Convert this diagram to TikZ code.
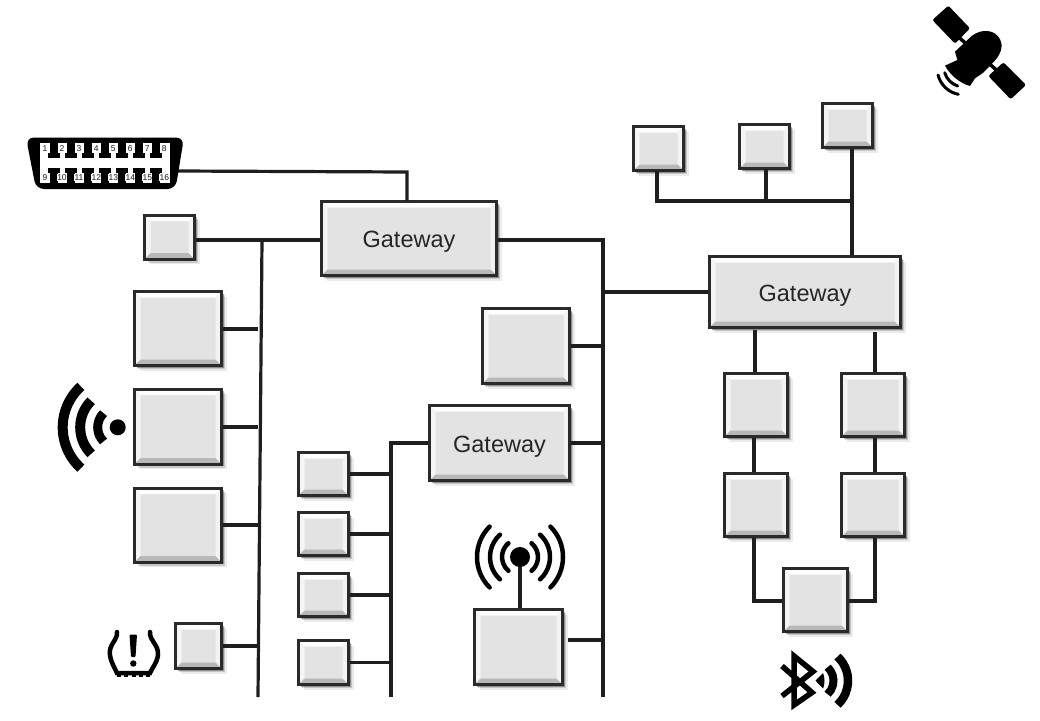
\documentclass[tikz,border=0pt]{standalone}
\usepackage{fontspec}
\setmainfont{Liberation Sans}
\usetikzlibrary{shadows,calc}
\definecolor{boxfill}{HTML}{E3E3E3}
\definecolor{boxline}{HTML}{2A2A2A}
\definecolor{wirecol}{HTML}{1E1E1E}
\tikzset{
  unit/.style={draw=boxline,line width=3pt,fill=boxfill,inner sep=0pt,
    general shadow={shadow xshift=5pt,shadow yshift=-5pt,fill=black,opacity=.08},
    general shadow={shadow xshift=3.5pt,shadow yshift=-3.5pt,fill=black,opacity=.15},
    general shadow={shadow xshift=2pt,shadow yshift=-2pt,fill=black,opacity=.3},
    font=\fontsize{23.5}{26}\selectfont,text=black!85,
    path picture={
      \fill[white!92!boxfill] (path picture bounding box.north west) -- (path picture bounding box.north east)
        -- ([xshift=-6pt,yshift=-6pt]path picture bounding box.north east)
        -- ([xshift=6pt,yshift=-6pt]path picture bounding box.north west) -- cycle;
      \fill[white!65!boxfill] (path picture bounding box.north west) -- (path picture bounding box.south west)
        -- ([xshift=6pt,yshift=6pt]path picture bounding box.south west)
        -- ([xshift=6pt,yshift=-6pt]path picture bounding box.north west) -- cycle;
      \fill[white!55!boxfill] (path picture bounding box.north east) -- (path picture bounding box.south east)
        -- ([xshift=-6pt,yshift=6pt]path picture bounding box.south east)
        -- ([xshift=-6pt,yshift=-6pt]path picture bounding box.north east) -- cycle;
      \fill[black!28] (path picture bounding box.south west) -- (path picture bounding box.south east)
        -- ([xshift=-6pt,yshift=6pt]path picture bounding box.south east)
        -- ([xshift=6pt,yshift=6pt]path picture bounding box.south west) -- cycle;
    }},
  wire/.style={draw=wirecol,line width=3.2pt},
  pin/.style={inner sep=0.3pt,fill=white,font=\fontsize{8.5}{9}\selectfont,text=black!90},
  iconline/.style={draw=black,line cap=round}
}
\newcommand{\gwlabel}{\raisebox{-9pt}[0pt][0pt]{Gateway}}
\begin{document}
\begin{tikzpicture}[x=1pt,y=-1pt]
\useasboundingbox (0,0) rectangle (1040,720);

% units
\node[unit,minimum width=50pt,minimum height=44pt] (s1) at (169.5,237) {};
\node[unit,minimum width=175pt,minimum height=74pt] (gw1) at (409,238.5) {\gwlabel};
\node[unit,minimum width=87pt,minimum height=74pt] (L1) at (178,328.5) {};
\node[unit,minimum width=87pt,minimum height=75pt] (L2) at (178,426.5) {};
\node[unit,minimum width=87pt,minimum height=74pt] (L3) at (178,525) {};
\node[unit,minimum width=46pt,minimum height=45pt] (tp) at (198.5,646) {};
\node[unit,minimum width=50pt,minimum height=43pt] (c1) at (323.5,474) {};
\node[unit,minimum width=50pt,minimum height=43pt] (c2) at (323.5,534) {};
\node[unit,minimum width=50pt,minimum height=43pt] (c3) at (323.5,595) {};
\node[unit,minimum width=50pt,minimum height=44pt] (c4) at (323.5,662.5) {};
\node[unit,minimum width=140pt,minimum height=75pt] (gw3) at (499.5,443) {\gwlabel};
\node[unit,minimum width=87pt,minimum height=75pt] (m1) at (526,346) {};
\node[unit,minimum width=88pt,minimum height=75pt] (ant) at (518.5,647) {};
\node[unit,minimum width=191pt,minimum height=71pt] (gw2) at (805,292) {\gwlabel};
\node[unit,minimum width=50pt,minimum height=44pt] (t1) at (658.5,148.5) {};
\node[unit,minimum width=50pt,minimum height=44pt] (t2) at (764.5,146.5) {};
\node[unit,minimum width=50pt,minimum height=44pt] (t3) at (847.5,125.5) {};
\node[unit,minimum width=63pt,minimum height=63pt] (r1) at (756,405) {};
\node[unit,minimum width=63pt,minimum height=63pt] (r2) at (873,405) {};
\node[unit,minimum width=63pt,minimum height=63pt] (r3) at (756,505) {};
\node[unit,minimum width=63pt,minimum height=63pt] (r4) at (873,505) {};
\node[unit,minimum width=64pt,minimum height=63pt] (bt) at (815.5,600) {};

% named points
\coordinate (obd) at (178,171);
\coordinate (busAt) at (262,240);
\coordinate (busAb) at (258,697);
\coordinate (busBt) at (391,443);
\coordinate (busBb) at (391,697);
\coordinate (busCt) at (603,240);
\coordinate (busCb) at (603,697);
\coordinate (gwtop) at (407,201);
\coordinate (topbus) at (852,201);
\coordinate (e1) at (257.5,329);
\coordinate (e2) at (257.5,427);
\coordinate (e3) at (257.5,525);
\coordinate (e4) at (258,646);
\coordinate (adot) at (520,557);
\coordinate (gwA) at (755,330);
\coordinate (gwB) at (875,332);
\coordinate (colA) at (754,0);
\coordinate (colB) at (875,0);
\coordinate (btlA) at (754,601);
\coordinate (btlB) at (875,601);
\coordinate (antw) at (568,640);
\coordinate (topA) at (657,171);
\coordinate (topB) at (766,169);

% connectors
\draw[wire] (obd) -- (407,172) -- (gwtop);
\draw[wire] (s1.east |- busAt) -- (gw1.west |- busAt);
\draw[wire] (busAt) -- (busAb);
\draw[wire] (L1.east |- e1) -- (e1);
\draw[wire] (L2.east |- e2) -- (e2);
\draw[wire] (L3.east |- e3) -- (e3);
\draw[wire] (tp.east |- e4) -- (e4);
\draw[wire] (gw1.east |- busCt) -- (busCt) -- (busCb);
\draw[wire] (gw2.west) -- (gw2.west -| busCt);
\draw[wire] (m1.east) -- (m1.east -| busCt);
\draw[wire] (gw3.east) -- (gw3.east -| busCt);
\draw[wire] (antw) -- (antw -| busCt);
\draw[wire] (gw3.west) -- (busBt) -- (busBb);
\draw[wire] (c1.east) -- (c1.east -| busBt);
\draw[wire] (c2.east) -- (c2.east -| busBt);
\draw[wire] (c3.east) -- (c3.east -| busBt);
\draw[wire] (c4.east) -- (c4.east -| busBt);
\draw[wire,line width=4.5pt] (adot) -- (adot |- ant.north);
\draw[wire] (topA) -- (topA |- topbus) -- (topbus);
\draw[wire] (topB) -- (topB |- topbus);
\draw[wire] (t3.south -| topbus) -- (topbus |- gw2.north);
\draw[wire] (gwA) -- (gwA |- r1.north);
\draw[wire] (gwB) -- (gwB |- r2.north);
\draw[wire] (colA |- r1.south) -- (colA |- r3.north);
\draw[wire] (colB |- r2.south) -- (colB |- r4.north);
\draw[wire] (colA |- r3.south) -- (btlA) -- (btlA -| bt.west);
\draw[wire] (colB |- r4.south) -- (btlB) -- (btlB -| bt.east);

% OBD connector
\fill[black,rounded corners=8pt] (26,137.5) -- (184,137.5) -- (175.5,189) -- (36,189) -- cycle;
\fill[white] (39.5,143) rectangle (170,182.5);
\foreach \px in {53.5,70.5,87.7,104.8,121.8,138.8,155.8}{
  \fill[black] (\px-4,143) rectangle (\px+4,155);
  \fill[black] (\px-6,153) rectangle (\px+6,158);
  \fill[black] (\px-4,170) rectangle (\px+4,182.5);
  \fill[black] (\px-6,168) rectangle (\px+6,172.5);
}
\foreach \n/\px in {1/45,2/62,3/79,4/96.3,5/113.3,6/130.3,7/147.3,8/164.3}
  \node[pin] (p\n) at (\px,148.5) {\n};
\foreach \n/\px in {9/45,10/62,11/79,12/96.3,13/113.3,14/130.3,15/147.3,16/164.3}
  \node[pin] (p\n) at (\px,177.5) {\n};

% satellite
\begin{scope}[shift={(920,0)},x=0.3333pt,y=-0.3333pt]
  \fill[black,rounded corners=2pt] (37,60) -- (85,17) -- (150,85) -- (105,131) -- cycle;
  \fill[black,rounded corners=2pt] (205,228) -- (250,187) -- (318,255) -- (272,298) -- cycle;
  \draw[black,line width=3.5pt] (120,115) -- (235,215);
  \fill[black] (105,155) -- (155,108) .. controls (185,85) and (225,88) .. (240,118)
     .. controls (252,140) and (240,165) .. (222,185) -- (190,218) -- (165,235) -- (150,258)
     .. controls (120,250) and (90,225) .. (75,197) -- (112,180) -- cycle;
  \draw[black,line width=3pt,line cap=round] (74,218) .. controls (80,238) and (95,252) .. (113,258);
  \draw[black,line width=3pt,line cap=round] (54,225) .. controls (62,255) and (85,277) .. (115,283);
\end{scope}

% wifi
\fill[black] (117.7,427.3) circle (8pt);
\draw[black,line width=9pt] (117.7,427.3) ++(135:20) arc[start angle=135,end angle=225,radius=20];
\draw[black,line width=10pt] (117.7,427.3) ++(135:37.5) arc[start angle=135,end angle=225,radius=37.5];
\draw[black,line width=10pt] (117.7,427.3) ++(132:55) arc[start angle=132,end angle=228,radius=55];

% tyre pressure
\draw[black,line width=4.5pt,line cap=round] (117,632) .. controls (118,640) and (108,645) .. (110,655)
   .. controls (111,663) and (115,668) .. (117,673) -- (150,673)
   .. controls (152,668) and (157,663) .. (158,655) .. controls (159,645) and (149,640) .. (150,632);
\foreach \px in {119,126,133.5,141,148}\fill[black] (\px-2,673) rectangle (\px+2,677);
\fill[black,rounded corners=1pt] (129.5,634.5) -- (137,634.5) -- (135.5,657) -- (131,657) -- cycle;
\fill[black] (133.3,663.5) circle (3.2pt);

% radio antenna waves
\fill[black] (adot) circle (10pt);
\foreach \r/\a in {18/50,30/48,43/45}{
  \draw[iconline,line width=4.5pt] (adot) ++(180-\a:\r) arc[start angle=180-\a,end angle=180+\a,radius=\r];
  \draw[iconline,line width=4.5pt] (adot) ++(-\a:\r) arc[start angle=-\a,end angle=\a,radius=\r];
}

% bluetooth
\draw[black,line width=5.5pt,miter limit=6] (782,666) -- (812,692.5) -- (794,705) -- (794,656) -- (813,671.5) -- (782,696);
\fill[black] (815.5,680.7) -- (823,673) .. controls (825,677) and (825,685) .. (823,688.5) -- cycle;
\draw[black,line width=8pt] (815,680.7) ++(-47:18.5) arc[start angle=-47,end angle=47,radius=18.5];
\draw[black,line width=8.5pt] (815,680.7) ++(-47:33) arc[start angle=-47,end angle=47,radius=33];
\end{tikzpicture}
\end{document}
